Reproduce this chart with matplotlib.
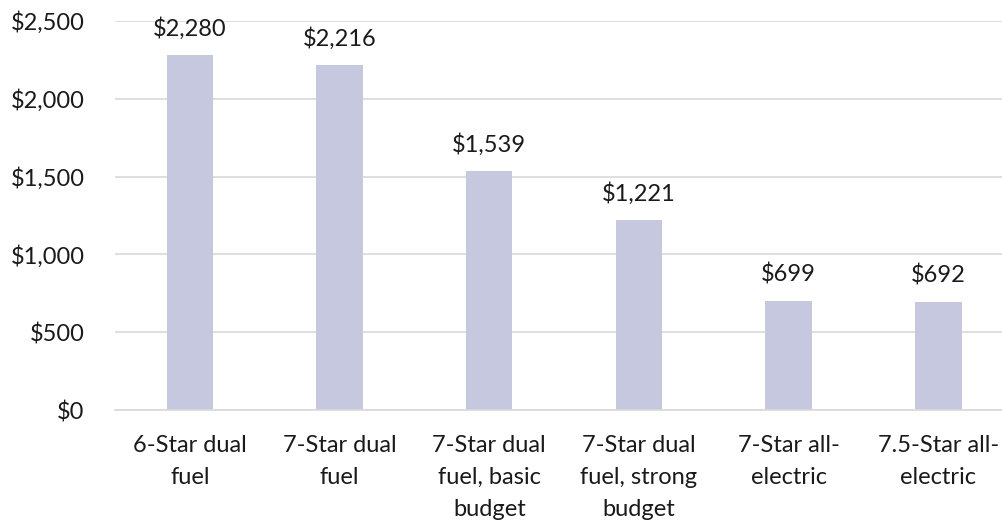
import matplotlib
matplotlib.use('Agg')
import matplotlib.pyplot as plt
from matplotlib.ticker import FuncFormatter

plt.rcParams['font.family'] = ['Lato', 'DejaVu Sans']

categories = ['6-Star dual\nfuel', '7-Star dual\nfuel', '7-Star dual\nfuel, basic\nbudget',
              '7-Star dual\nfuel, strong\nbudget', '7-Star all-\nelectric', '7.5-Star all-\nelectric']
values = [2280, 2216, 1539, 1221, 699, 692]
yticks = [0, 500, 1000, 1500, 2000, 2500]

fig = plt.figure(figsize=(10.02, 5.22), dpi=100)
ax = fig.add_axes([115/1002, 112/522, 1 - 115/1002, (410 - 21)/522])

x = list(range(len(categories)))
ax.bar(x, values, width=0.31, color='#c5c8de', zorder=2)
for xi, v in zip(x, values):
    ax.annotate('${:,}'.format(v), (xi, v), xytext=(0, 19), textcoords='offset points',
                ha='center', va='center', fontsize=17, color='#1a1a1a')

ax.set_xlim(-0.5, 5.425)
ax.set_ylim(0, 2500)
ax.set_yticks(yticks)
ax.yaxis.set_major_formatter(FuncFormatter(lambda v, p: '${:,.0f}'.format(v)))
ax.set_xticks(x)
ax.set_xticklabels(categories, linespacing=1.65)
ax.tick_params(axis='y', length=0, pad=22, labelsize=17, labelcolor='#1a1a1a')
ax.tick_params(axis='x', length=0, pad=18, labelsize=17, labelcolor='#1a1a1a')
ax.grid(axis='y', color='#d9d9d9', linewidth=1.2, zorder=0)
for s in ['top', 'right', 'left']:
    ax.spines[s].set_visible(False)
ax.spines['bottom'].set_color('#d9d9d9')
ax.spines['bottom'].set_linewidth(1.2)

fig.savefig('out.png', dpi=100)
